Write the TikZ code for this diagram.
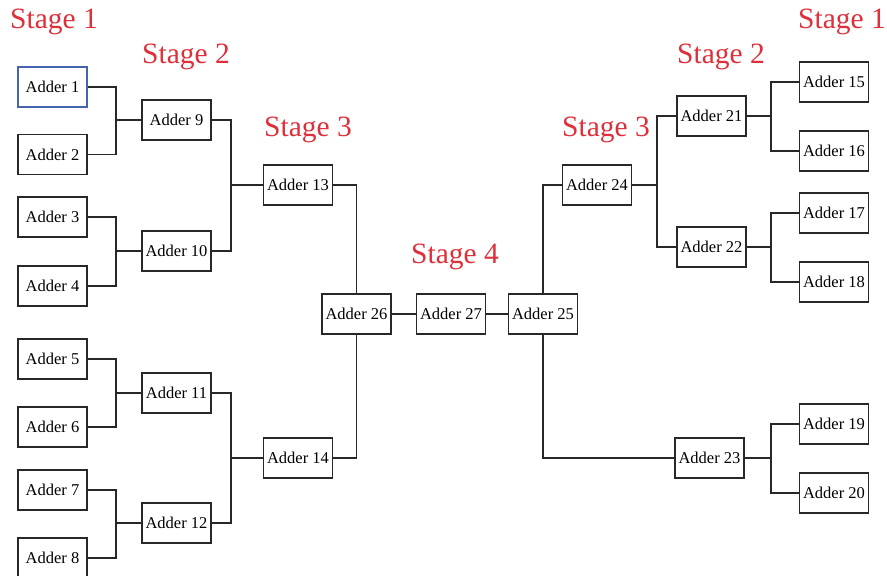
\documentclass[tikz,border=0pt]{standalone}
\usepackage{fontspec}
\setmainfont{Liberation Serif}
\definecolor{stagered}{RGB}{222,48,58}
\definecolor{boxline}{RGB}{40,40,40}
\definecolor{selblue}{RGB}{70,100,175}
\begin{document}
\begin{tikzpicture}[x=1pt,y=-1pt,
  adder/.style={draw=boxline,line width=1.6pt,minimum width=69pt,minimum height=40pt,inner sep=0pt,fill=white,font=\fontsize{16.5}{18}\selectfont},
  stagelbl/.style={text=stagered,font=\fontsize{29.5}{32}\selectfont,inner sep=0pt},
  wire/.style={draw=boxline,line width=1.6pt}]
\useasboundingbox (0,0) rectangle (887,576);
\fill[white] (0,0) rectangle (887,576);
% stage labels
\node[stagelbl] (s1l) at (54,22) {Stage 1};
\node[stagelbl] (s2l) at (186,57) {Stage 2};
\node[stagelbl] (s3l) at (308,130) {Stage 3};
\node[stagelbl] (s4) at (455,257) {Stage 4};
\node[stagelbl] (s3r) at (606,130) {Stage 3};
\node[stagelbl] (s2r) at (721,57) {Stage 2};
\node[stagelbl] (s1r) at (842,22) {Stage 1};
% left stage 1
\node[adder,draw=selblue] (a1) at (52.5,87) {Adder 1};
\node[adder] (a2) at (52.5,154.5) {Adder 2};
\node[adder] (a3) at (52.5,217) {Adder 3};
\node[adder] (a4) at (52.5,286) {Adder 4};
\node[adder] (a5) at (52.5,359) {Adder 5};
\node[adder] (a6) at (52.5,427) {Adder 6};
\node[adder] (a7) at (52.5,490) {Adder 7};
\node[adder] (a8) at (52.5,558) {Adder 8};
% left stage 2
\node[adder] (a9) at (176.5,120) {Adder 9};
\node[adder] (a10) at (176.5,251) {Adder 10};
\node[adder] (a11) at (176.5,393) {Adder 11};
\node[adder] (a12) at (176.5,523) {Adder 12};
% left stage 3
\node[adder] (a13) at (298,185) {Adder 13};
\node[adder] (a14) at (298,458) {Adder 14};
% centre
\node[adder] (a26) at (356.5,314) {Adder 26};
\node[adder] (a27) at (451,314) {Adder 27};
\node[adder] (a25) at (543,314) {Adder 25};
% right stage 3
\node[adder] (a24) at (597,185) {Adder 24};
\node[adder] (a23) at (709.5,458) {Adder 23};
% right stage 2
\node[adder] (a21) at (711.5,116) {Adder 21};
\node[adder] (a22) at (711.5,247) {Adder 22};
% right stage 1
\node[adder] (a15) at (834,82) {Adder 15};
\node[adder] (a16) at (834,151) {Adder 16};
\node[adder] (a17) at (834,213) {Adder 17};
\node[adder] (a18) at (834,282) {Adder 18};
\node[adder] (a19) at (834,424) {Adder 19};
\node[adder] (a20) at (834,493) {Adder 20};
% junction coordinates
\coordinate (j12) at (116,120);
\coordinate (j34) at (116,251);
\coordinate (j56) at (116,393);
\coordinate (j78) at (116,523);
\coordinate (j910) at (231,185);
\coordinate (j1112) at (231,458);
\coordinate (j1516) at (771,116);
\coordinate (j1718) at (771,247);
\coordinate (j1920) at (771,458);
\coordinate (j2122) at (657,185);
% wires left
\draw[wire] (a1.east) -| (j12) |- (a2.east);
\draw[wire] (j12) -- (a9.west);
\draw[wire] (a3.east) -| (j34) |- (a4.east);
\draw[wire] (j34) -- (a10.west);
\draw[wire] (a5.east) -| (j56) |- (a6.east);
\draw[wire] (j56) -- (a11.west);
\draw[wire] (a7.east) -| (j78) |- (a8.east);
\draw[wire] (j78) -- (a12.west);
\draw[wire] (a9.east) -| (j910) |- (a10.east);
\draw[wire] (j910) -- (a13.west);
\draw[wire] (a11.east) -| (j1112) |- (a12.east);
\draw[wire] (j1112) -- (a14.west);
\draw[wire] (a13.east) -| (a26.north);
\draw[wire] (a14.east) -| (a26.south);
% centre
\draw[wire] (a26.east) -- (a27.west);
\draw[wire] (a27.east) -- (a25.west);
\draw[wire] (a24.west) -| (a25.north);
\draw[wire] (a25.south) |- (a23.west);
% wires right
\draw[wire] (a15.west) -| (j1516) |- (a16.west);
\draw[wire] (j1516) -- (a21.east);
\draw[wire] (a17.west) -| (j1718) |- (a18.west);
\draw[wire] (j1718) -- (a22.east);
\draw[wire] (a19.west) -| (j1920) |- (a20.west);
\draw[wire] (j1920) -- (a23.east);
\draw[wire] (a21.west) -| (j2122) |- (a22.west);
\draw[wire] (j2122) -- (a24.east);
\end{tikzpicture}
\end{document}
